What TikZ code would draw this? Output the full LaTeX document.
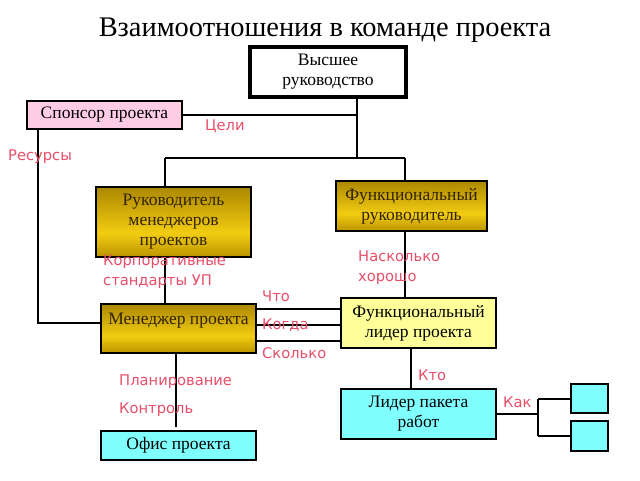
\documentclass[tikz,border=0pt]{standalone}
\usepackage{fontspec}
\usetikzlibrary{calc}
\setmainfont{Liberation Serif}
\newfontfamily\lblfont{DejaVu Sans}
\definecolor{lblred}{RGB}{232,78,104}
\definecolor{pinkbox}{RGB}{255,204,229}
\definecolor{cyanbox}{RGB}{128,255,255}
\definecolor{yelbox}{RGB}{255,255,153}
\definecolor{goldA}{RGB}{172,136,0}
\definecolor{goldB}{RGB}{242,204,18}
\definecolor{goldC}{RGB}{190,150,0}
\definecolor{goldtext}{RGB}{50,36,0}
\begin{document}
\begin{tikzpicture}[x=1pt,y=-1pt,
  box/.style={draw=black,line width=2pt,rectangle,inner sep=0pt,align=center,
    font=\fontsize{17.5}{20}\selectfont},
  goldbox/.style={box,fill=goldB,text=goldtext,
    path picture={
      \foreach \k in {0,...,39}{
        \ifnum\k<26
          \pgfmathtruncatemacro\pc{100-\k*100/26}
          \colorlet{stripcol}{goldA!\pc!goldB}
        \else
          \pgfmathtruncatemacro\pc{(\k-26)*100/13}
          \colorlet{stripcol}{goldC!\pc!goldB}
        \fi
        \pgfmathsetmacro\ka{\k/40}
        \pgfmathsetmacro\kb{(\k+1.3)/40}
        \fill[stripcol] ($(path picture bounding box.north west)!\ka!(path picture bounding box.south west)$)
          rectangle ($(path picture bounding box.north east)!\kb!(path picture bounding box.south east)$);
      }
    }},
  conn/.style={line width=2pt,black},
  lbl/.style={text=lblred,inner sep=0pt,font=\lblfont\fontsize{14.7}{20}\selectfont}]
\useasboundingbox (0,0) rectangle (640,480);
\node[inner sep=0pt,font=\fontsize{28.4}{32}\selectfont] (title) at (325,30) {Взаимоотношения в команде проекта};
% boxes
\node[box,line width=3.4pt,fill=white,minimum width=156pt,minimum height=50pt] (top) at (328,72) {Высшее\\руководство};
\node[box,fill=pinkbox,minimum width=155pt,minimum height=28pt] (sponsor) at (104.5,115) {Спонсор проекта};
\node[goldbox,minimum width=155pt,minimum height=70pt] (rmp) at (173.5,222) {Руководитель\\менеджеров\\проектов};
\node[goldbox,minimum width=151pt,minimum height=50pt] (fr) at (411.5,206) {Функциональный\\руководитель};
\node[goldbox,minimum width=155pt,minimum height=49pt,text height=12pt,text depth=20pt] (mp) at (178.5,328.5) {Менеджер проекта};
\node[box,fill=yelbox,minimum width=155pt,minimum height=50pt] (fl) at (418.5,323) {Функциональный\\лидер проекта};
\node[box,fill=cyanbox,minimum width=155pt,minimum height=50pt] (lp) at (418.5,414) {Лидер пакета\\работ};
\node[box,fill=cyanbox,minimum width=155pt,minimum height=29pt] (office) at (178.5,445.5) {Офис проекта};
\node[box,fill=cyanbox,minimum width=37pt,minimum height=29pt] (sq1) at (589.5,398.5) {};
\node[box,fill=cyanbox,minimum width=37pt,minimum height=30pt] (sq2) at (589.5,436) {};
% junction coordinates
\coordinate (bus) at (357,158);
\coordinate (bl) at (165,158);
\coordinate (br) at (405,158);
\coordinate (sl) at (38,323);
\coordinate (l1) at (300,309);
\coordinate (l2) at (300,325);
\coordinate (l3) at (300,341);
\coordinate (kx) at (411,400);
\coordinate (ox) at (176,427);
\coordinate (jx) at (538,414);
% connectors
\draw[conn] (top.south -| bus) -- (bus);
\draw[conn] (sponsor.east) -- (sponsor.east -| bus);
\draw[conn] (bl) -- (br);
\draw[conn] (bl) -- (bl |- rmp.north);
\draw[conn] (br) -- (br |- fr.north);
\draw[conn] (bl |- rmp.south) -- (bl |- mp.north);
\draw[conn] (br |- fr.south) -- (br |- fl.north);
\draw[conn] (sponsor.south -| sl) -- (sl) -- (sl -| mp.west);
\draw[conn] (mp.east |- l1) -- (fl.west |- l1);
\draw[conn] (mp.east |- l2) -- (fl.west |- l2);
\draw[conn] (mp.east |- l3) -- (fl.west |- l3);
\draw[conn] (fl.south -| kx) -- (lp.north -| kx);
\draw[conn] (mp.south -| ox) -- (ox);
\draw[conn] (lp.east) -- (jx);
\draw[conn] (jx |- sq1.west) -- (jx |- sq2.west);
\draw[conn] (jx |- sq1.west) -- (sq1.west);
\draw[conn] (jx |- sq2.west) -- (sq2.west);
% labels
\node[lbl,anchor=west] (tseli) at (205,126) {Цели};
\node[lbl,anchor=west] (tres) at (8,157) {Ресурсы};
\node[lbl,anchor=west,align=left] (tkorp) at (103,272) {Корпоративные\\стандарты УП};
\node[lbl,anchor=west,align=left] (tnask) at (358,268) {Насколько\\хорошо};
\node[lbl,anchor=west] (tchto) at (262,296) {Что};
\node[lbl,anchor=west] (tkogda) at (262,325) {Когда};
\node[lbl,anchor=west] (tskolko) at (262,353) {Сколько};
\node[lbl,anchor=west] (tkto) at (418,375) {Кто};
\node[lbl,anchor=west] (tplan) at (119,382) {Планирование};
\node[lbl,anchor=west] (tkontr) at (119,410) {Контроль};
\node[lbl,anchor=west] (tkak) at (503,402) {Как};
\end{tikzpicture}
\end{document}
